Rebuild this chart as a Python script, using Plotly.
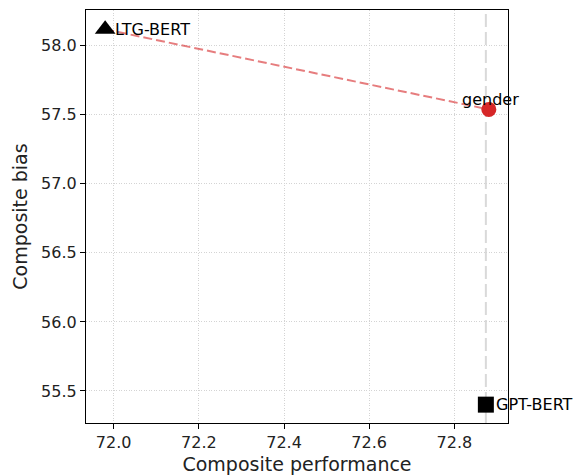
import plotly.graph_objects as go

# Data
model_names = ["LTG-BERT", "gender", "GPT-BERT"]
performance = [71.980, 72.881, 72.874]
bias = [58.119, 57.539, 55.401]
ref_performance = 72.874
x_ticks = [72.0, 72.2, 72.4, 72.6, 72.8]
y_ticks = [55.5, 56.0, 56.5, 57.0, 57.5, 58.0]

FONT = "DejaVu Sans"

fig = go.Figure()

# vertical reference dashed line
fig.add_shape(type="line", xref="x", yref="paper", x0=ref_performance, x1=ref_performance,
              y0=0, y1=1, line=dict(color="#d9d9d9", width=2, dash="13px,5px"), layer="below")

# dashed connector LTG-BERT -> gender
fig.add_trace(go.Scatter(
    x=[performance[0], performance[1]], y=[bias[0], bias[1]], mode="lines",
    line=dict(color="rgba(214,39,40,0.6)", width=2, dash="9px,4px"),
    hoverinfo="skip", showlegend=False))

# markers
fig.add_trace(go.Scatter(x=[performance[0]], y=[bias[0]], mode="markers",
                         marker=dict(symbol="triangle-up", size=18, color="black"),
                         showlegend=False))
fig.add_trace(go.Scatter(x=[performance[1]], y=[bias[1]], mode="markers",
                         marker=dict(symbol="circle", size=15, color="#d62728"),
                         showlegend=False))
fig.add_trace(go.Scatter(x=[performance[2]], y=[bias[2]], mode="markers",
                         marker=dict(symbol="square", size=16, color="black"),
                         showlegend=False))

# labels
fig.add_annotation(x=performance[0], y=bias[0], text=model_names[0], showarrow=False,
                   xanchor="left", yanchor="middle", xshift=8, yshift=0,
                   font=dict(family=FONT, size=16, color="black"))
fig.add_annotation(x=performance[1], y=bias[1], text=model_names[1], showarrow=False,
                   xanchor="center", yanchor="bottom", xshift=2, yshift=-2,
                   font=dict(family=FONT, size=16, color="black"))
fig.add_annotation(x=performance[2], y=bias[2], text=model_names[2], showarrow=False,
                   xanchor="left", yanchor="middle", xshift=8, yshift=0,
                   font=dict(family=FONT, size=16, color="black"))

axis_common = dict(showline=True, linecolor="black", linewidth=1.2, mirror=True,
                   ticks="outside", ticklen=5, tickwidth=1, tickcolor="black",
                   showgrid=True, gridcolor="#d4d4d4", gridwidth=1, griddash="1px,1.5px",
                   zeroline=False, tickfont=dict(family=FONT, size=16, color="#222"))

fig.update_xaxes(range=[71.935, 72.926], tickvals=x_ticks,
                 ticktext=[f"{v:.1f}" for v in x_ticks],
                 title=dict(text="Composite performance", font=dict(family=FONT, size=19, color="#222"), standoff=6),
                 **axis_common)
fig.update_yaxes(range=[55.268, 58.259], tickvals=y_ticks,
                 ticktext=[f"{v:.1f}" for v in y_ticks],
                 title=dict(text="Composite bias", font=dict(family=FONT, size=19, color="#222"), standoff=8),
                 **axis_common)

fig.update_layout(width=576, height=475, plot_bgcolor="white", paper_bgcolor="white",
                  margin=dict(l=86, r=68, t=10, b=52, autoexpand=False),
                  font=dict(family=FONT), showlegend=False)

fig.write_html("out.html", config={"displayModeBar": False},
               post_script="document.body.style.margin='0px';document.body.style.overflow='hidden';")
